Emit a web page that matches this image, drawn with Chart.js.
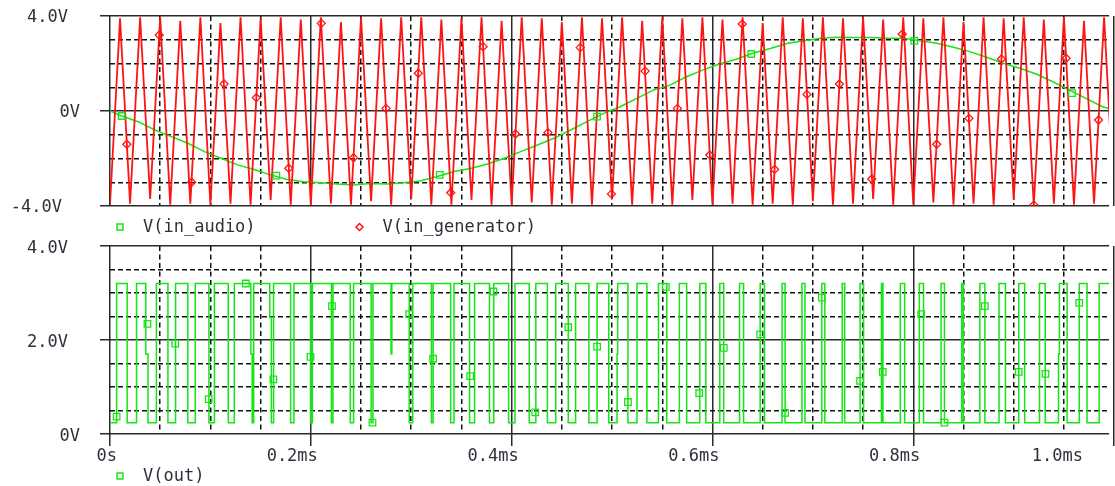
<!DOCTYPE html>
<html>
<head>
<meta charset="utf-8">
<title>PWM</title>
<script src="https://cdn.jsdelivr.net/npm/chart.js@4.4.1/dist/chart.umd.min.js"></script>
<style>
    html, body { margin: 0; padding: 0; background: #ffffff; overflow: hidden; }
    #wrap { position: relative; width: 1115px; height: 486px; }
    canvas { position: absolute; left: 0; }
    #topChart { top: 0; }
    #bottomChart { top: 240px; }
</style>
</head>
<body>
<div id="wrap">
    <canvas id="topChart" width="1115" height="250"></canvas>
    <canvas id="bottomChart" width="1115" height="246"></canvas>
</div>
<script>
// Tijdas (ms)
const xMax = 0.995;
const xMajorTicks = [0, 0.2, 0.4, 0.6, 0.8, 1.0];
const xTickLabels = ["0s", "0.2ms", "0.4ms", "0.6ms", "0.8ms", "1.0ms"];
const xMinorTicks = [0.05, 0.1, 0.15, 0.25, 0.3, 0.35, 0.45, 0.5, 0.55, 0.65, 0.7, 0.75, 0.85, 0.9, 0.95];

// Bovenste grafiek: ingangen
const topMajorTicks = [-4, 0, 4];
const topTickLabels = ["-4.0V", "0V", "4.0V"];
const topMinorTicks = [-3, -2, -1, 1, 2, 3];

// Onderste grafiek: uitgang
const bottomMajorTicks = [0, 2, 4];
const bottomTickLabels = ["0V", "2.0V", "4.0V"];
const bottomMinorTicks = [0.5, 1, 1.5, 2.5, 3, 3.5];

// V(in_audio)
const audioT = [0, 0.0116, 0.028, 0.0446, 0.061, 0.0776, 0.094, 0.1106, 0.127, 0.1436,
    0.16, 0.1765, 0.193, 0.2096, 0.226, 0.2426, 0.259, 0.2756, 0.292, 0.3086,
    0.325, 0.343, 0.36, 0.376, 0.3928, 0.409, 0.4257, 0.442, 0.4587, 0.475,
    0.4917, 0.508, 0.5248, 0.541, 0.5577, 0.574, 0.5908, 0.607, 0.6238, 0.64,
    0.6584, 0.675, 0.6914, 0.708, 0.7244, 0.741, 0.7574, 0.774, 0.7904, 0.807,
    0.8234, 0.84, 0.8564, 0.873, 0.8894, 0.906, 0.9224, 0.939, 0.9554, 0.972,
    0.9884, 0.995];
const audioV = [0, -0.21, -0.45, -0.8, -1.08, -1.36, -1.71, -1.99, -2.27, -2.46,
    -2.69, -2.88, -2.98, -3.02, -3.07, -3.12, -3.05, -3.07, -3.02, -2.95,
    -2.77, -2.55, -2.41, -2.23, -1.99, -1.71, -1.43, -1.15, -0.8, -0.45,
    -0.1, 0.18, 0.53, 0.88, 1.09, 1.44, 1.73, 1.98, 2.18, 2.43,
    2.64, 2.85, 2.96, 3.06, 3.1, 3.09, 3.09, 3.06, 3.06, 2.96,
    2.85, 2.68, 2.5, 2.26, 2.01, 1.8, 1.56, 1.23, 0.88, 0.53,
    0.18, 0.1];
const audioMarkT = [0.0116, 0.1657, 0.3284, 0.485, 0.6386, 0.801, 0.958];
const audioMarkV = [-0.21, -2.72, -2.69, -0.24, 2.4, 2.95, 0.75];

// V(in_generator): toppen en dalen van de driehoek
const genT = [0, 0.01, 0.02, 0.03, 0.04, 0.05, 0.06, 0.07, 0.08, 0.09,
    0.10, 0.11, 0.12, 0.13, 0.14, 0.15, 0.16, 0.17, 0.18, 0.19,
    0.20, 0.21, 0.22, 0.23, 0.24, 0.25, 0.26, 0.27, 0.28, 0.29,
    0.30, 0.31, 0.32, 0.33, 0.34, 0.35, 0.36, 0.37, 0.38, 0.39,
    0.40, 0.41, 0.42, 0.43, 0.44, 0.45, 0.46, 0.47, 0.48, 0.49,
    0.50, 0.51, 0.52, 0.53, 0.54, 0.55, 0.56, 0.57, 0.58, 0.59,
    0.60, 0.61, 0.62, 0.63, 0.64, 0.65, 0.66, 0.67, 0.68, 0.69,
    0.70, 0.71, 0.72, 0.73, 0.74, 0.75, 0.76, 0.77, 0.78, 0.79,
    0.80, 0.81, 0.82, 0.83, 0.84, 0.85, 0.86, 0.87, 0.88, 0.89,
    0.90, 0.91, 0.92, 0.93, 0.94, 0.95, 0.96, 0.97, 0.98, 0.99,
    1.00];
const genV = [-3.95, 3.9, -3.9, 3.95, -3.7, 3.95, -3.95, 3.8, -3.9, 3.95,
    -3.95, 3.7, -3.9, 3.95, -3.95, 3.9, -3.75, 3.95, -3.95, 3.85,
    -3.95, 3.95, -3.9, 3.75, -3.95, 3.95, -3.8, 3.9, -3.95, 3.95,
    -3.7, 3.95, -3.95, 3.85, -3.95, 3.9, -3.75, 3.95, -3.95, 3.8,
    -3.95, 3.95, -3.85, 3.9, -3.95, 3.75, -3.9, 3.95, -3.95, 3.9,
    -3.7, 3.95, -3.95, 3.8, -3.9, 3.95, -3.95, 3.9, -3.75, 3.95,
    -3.95, 3.85, -3.9, 3.95, -3.95, 3.7, -3.9, 3.95, -3.95, 3.9,
    -3.8, 3.95, -3.95, 3.9, -3.9, 3.95, -3.7, 3.85, -3.95, 3.95,
    -3.95, 3.9, -3.85, 3.95, -3.95, 3.75, -3.9, 3.95, -3.95, 3.9,
    -3.75, 3.95, -3.98, 3.85, -3.9, 3.95, -3.95, 3.8, -3.9, 3.95,
    -3.95];
const genMarkT = [0.0168, 0.049, 0.0813, 0.1136, 0.1457, 0.178, 0.2104, 0.2425, 0.2749, 0.307,
    0.3393, 0.3716, 0.4038, 0.4361, 0.4683, 0.4994, 0.5329, 0.5651, 0.5973, 0.6296,
    0.6619, 0.6941, 0.7264, 0.7586, 0.789, 0.8233, 0.8554, 0.8877, 0.92, 0.9522, 0.9845];
const genMarkV = [-1.4, 3.2, -3.0, 1.14, 0.56, -2.41, 3.69, -1.97, 0.11, 1.59,
    -3.44, 2.71, -0.97, -0.91, 2.67, -3.49, 1.68, 0.11, -1.85, 3.66,
    -2.46, 0.7, 1.14, -2.86, 3.24, -1.4, -0.31, 2.19, -3.96, 2.22, -0.38];

// V(out): flanktijden met het niveau dat daar begint
const outT = [0, 0.0066, 0.0171, 0.0264, 0.0356, 0.0379, 0.0462, 0.0577, 0.0653, 0.0775,
    0.0849, 0.0985, 0.104, 0.1178, 0.1238, 0.1403, 0.1416, 0.1431, 0.1591, 0.1607,
    0.1629, 0.1799, 0.1832, 0.1997, 0.2015, 0.2205, 0.2221, 0.2393, 0.2426, 0.2601,
    0.2619, 0.2799, 0.2807, 0.298, 0.3015, 0.3201, 0.3218, 0.3393, 0.3426, 0.3581,
    0.3631, 0.3779, 0.3822, 0.397, 0.4033, 0.4175, 0.4241, 0.4356, 0.4439, 0.4564,
    0.4637, 0.4769, 0.4851, 0.4967, 0.505, 0.5056, 0.5158, 0.5248, 0.5347, 0.5462,
    0.5545, 0.567, 0.5743, 0.5874, 0.5934, 0.6073, 0.6112, 0.627, 0.631, 0.6475,
    0.6518, 0.6693, 0.6723, 0.6891, 0.6921, 0.7089, 0.7119, 0.7292, 0.7317, 0.747,
    0.7505, 0.7683, 0.7698, 0.7871, 0.7914, 0.806, 0.8102, 0.8277, 0.831, 0.8482,
    0.8498, 0.8663, 0.8713, 0.8854, 0.8918, 0.905, 0.9109, 0.9257, 0.9314, 0.9446,
    0.9455, 0.9532, 0.9653, 0.973, 0.9851, 1.0];
const outV = [0.24, 3.2, 0.24, 3.2, 1.7, 0.24, 3.2, 0.24, 3.2, 0.24,
    3.2, 0.24, 3.2, 0.24, 3.2, 1.7, 0.24, 3.2, 2.48, 0.24,
    3.2, 0.24, 3.2, 0.24, 3.2, 0.24, 3.2, 0.24, 3.2, 0.24,
    3.2, 1.7, 3.2, 0.24, 3.2, 0.24, 3.2, 0.24, 3.2, 0.24,
    3.2, 0.24, 3.2, 0.24, 3.2, 0.24, 3.2, 0.24, 3.2, 0.24,
    3.2, 0.24, 3.2, 0.24, 1.7, 3.2, 0.24, 3.2, 0.24, 3.2,
    0.24, 3.2, 0.24, 3.2, 0.24, 3.2, 0.24, 3.2, 0.24, 3.2,
    0.24, 3.2, 0.24, 3.2, 0.24, 3.2, 0.24, 3.2, 0.24, 3.2,
    0.24, 3.2, 0.24, 3.2, 0.24, 3.2, 0.24, 3.2, 0.24, 3.2,
    0.24, 3.2, 0.24, 3.2, 0.24, 3.2, 0.24, 3.2, 0.24, 1.7,
    3.2, 0.24, 3.2, 0.24, 3.2, 3.2];
const outMarkT = [0.0066, 0.0373, 0.065, 0.0983, 0.1353, 0.1627, 0.1997, 0.2211, 0.2614, 0.298,
    0.3218, 0.3587, 0.3819, 0.4235, 0.4564, 0.4851, 0.5158, 0.5535, 0.5868, 0.6112,
    0.6475, 0.6723, 0.7089, 0.747, 0.7696, 0.8079, 0.831, 0.8713, 0.905, 0.9317, 0.9653];
const outMarkV = [0.37, 2.34, 1.92, 0.74, 3.2, 1.16, 1.64, 2.72, 0.24, 2.55,
    1.6, 1.23, 3.03, 0.46, 2.27, 1.86, 0.68, 3.13, 0.87, 1.83,
    2.12, 0.45, 2.9, 1.13, 1.32, 2.55, 0.24, 2.72, 1.32, 1.28, 2.79];

const groen = '#14e614';
const rood = '#ff1414';
const tekstKleur = '#30303c';
const lettertype = '17px "DejaVu Sans Mono", monospace';

function punten(xs, ys) {
    return xs.map((x, i) => ({ x: x, y: ys[i] }));
}

function vasteTicks(waarden) {
    return scale => { scale.ticks = waarden.map(v => ({ value: v })); };
}

function maakAssen(yMin, yMax, yMajor, yMinor, xStreepjes) {
    return {
        x: {
            type: 'linear', axis: 'x', position: 'bottom', min: 0, max: xMax,
            afterBuildTicks: vasteTicks(xMajorTicks),
            ticks: { display: false },
            border: { display: false },
            grid: { color: '#2a2a2a', lineWidth: 1.5, drawTicks: xStreepjes, tickLength: 12 }
        },
        xMinor: {
            type: 'linear', axis: 'x', position: 'bottom', min: 0, max: xMax,
            afterBuildTicks: vasteTicks(xMinorTicks),
            ticks: { display: false },
            border: { display: false, dash: [5, 3.5] },
            grid: { color: '#111111', lineWidth: 1.5, drawTicks: false }
        },
        y: {
            type: 'linear', axis: 'y', position: 'left', min: yMin, max: yMax,
            afterBuildTicks: vasteTicks(yMajor),
            ticks: { display: false },
            border: { display: false },
            grid: { color: '#2a2a2a', lineWidth: 1.5, drawTicks: true, tickLength: 10 }
        },
        yMinor: {
            type: 'linear', axis: 'y', position: 'left', min: yMin, max: yMax,
            afterBuildTicks: vasteTicks(yMinor),
            ticks: { display: false },
            border: { display: false, dash: [5, 3] },
            grid: { color: '#111111', lineWidth: 1.5, drawTicks: false }
        }
    };
}

// Aslabels en legende in PSpice-stijl
const pspiceTekst = {
    id: 'pspiceTekst',
    afterDraw(chart, args, opts) {
        const ctx = chart.ctx;
        ctx.save();
        ctx.font = lettertype;
        ctx.fillStyle = tekstKleur;
        ctx.textBaseline = 'middle';
        ctx.textAlign = 'right';

        const y = chart.scales.y;
        opts.yWaarden.forEach((v, i) => {
            const t = opts.yLabels[i];
            ctx.fillText(t, 80 - 6 * (t.length - 2), y.getPixelForValue(v) + opts.yVerschuiving);
        });

        if (opts.xLabels) {
            const x = chart.scales.x;
            opts.xWaarden.forEach((v, i) => {
                const rechts = Math.min(x.getPixelForValue(v) + 7, chart.width - 32);
                ctx.fillText(opts.xLabels[i], rechts, opts.xLabelY);
            });
        }

        ctx.textAlign = 'left';
        ctx.textBaseline = 'alphabetic';
        ctx.lineWidth = 1.5;
        opts.legende.forEach(item => {
            const cx = item.x, cy = opts.legendeY;
            ctx.strokeStyle = item.kleur;
            ctx.beginPath();
            if (item.vorm === 'ruit') {
                ctx.moveTo(cx - 3.5, cy);
                ctx.lineTo(cx, cy - 3.5);
                ctx.lineTo(cx + 3.5, cy);
                ctx.lineTo(cx, cy + 3.5);
                ctx.closePath();
            } else {
                ctx.rect(cx - 3, cy - 3, 6, 6);
            }
            ctx.stroke();
            ctx.fillText(item.tekst, cx + 23, cy + 5);
        });
        ctx.restore();
    }
};

const basisOpties = {
    responsive: false,
    animation: false,
    events: [],
    devicePixelRatio: 1
};

new Chart(document.getElementById('topChart'), {
    type: 'line',
    data: {
        datasets: [
            {
                type: 'scatter', data: punten(genMarkT, genMarkV), order: 0,
                pointStyle: 'rectRot', pointRadius: 4, borderColor: rood, borderWidth: 1.3,
                backgroundColor: 'rgba(0,0,0,0)', xAxisID: 'x', yAxisID: 'y'
            },
            {
                type: 'scatter', data: punten(audioMarkT, audioMarkV), order: 0,
                pointStyle: 'rect', pointRadius: 4.6, borderColor: groen, borderWidth: 1.3,
                backgroundColor: 'rgba(0,0,0,0)', xAxisID: 'x', yAxisID: 'y'
            },
            {
                label: 'V(in_generator)', data: punten(genT, genV), order: 1,
                borderColor: rood, borderWidth: 1.8, pointRadius: 0, tension: 0,
                xAxisID: 'x', yAxisID: 'y'
            },
            {
                label: 'V(in_audio)', data: punten(audioT, audioV), order: 2,
                borderColor: groen, borderWidth: 1.5, pointRadius: 0, tension: 0,
                xAxisID: 'x', yAxisID: 'y'
            }
        ]
    },
    options: {
        ...basisOpties,
        layout: { padding: { left: 100, top: 16, right: 0, bottom: 44 } },
        scales: maakAssen(-4, 4, topMajorTicks, topMinorTicks, false),
        plugins: {
            legend: { display: false },
            tooltip: { enabled: false },
            pspiceTekst: {
                yWaarden: topMajorTicks, yLabels: topTickLabels, yVerschuiving: 2,
                legendeY: 227,
                legende: [
                    { tekst: 'V(in_audio)', kleur: groen, vorm: 'vierkant', x: 120 },
                    { tekst: 'V(in_generator)', kleur: rood, vorm: 'ruit', x: 359.5 }
                ]
            }
        }
    },
    plugins: [pspiceTekst]
});

new Chart(document.getElementById('bottomChart'), {
    type: 'line',
    data: {
        datasets: [
            {
                type: 'scatter', data: punten(outMarkT, outMarkV), order: 0,
                pointStyle: 'rect', pointRadius: 4.6, borderColor: groen, borderWidth: 1.3,
                backgroundColor: 'rgba(0,0,0,0)', xAxisID: 'x', yAxisID: 'y'
            },
            {
                label: 'V(out)', data: punten(outT, outV), order: 1,
                borderColor: groen, borderWidth: 1.5, pointRadius: 0, stepped: 'before',
                xAxisID: 'x', yAxisID: 'y'
            }
        ]
    },
    options: {
        ...basisOpties,
        layout: { padding: { left: 100, top: 5, right: 0, bottom: 40 } },
        scales: maakAssen(0, 4, bottomMajorTicks, bottomMinorTicks, true),
        plugins: {
            legend: { display: false },
            tooltip: { enabled: false },
            pspiceTekst: {
                yWaarden: bottomMajorTicks, yLabels: bottomTickLabels, yVerschuiving: 3,
                xWaarden: xMajorTicks, xLabels: xTickLabels, xLabelY: 217,
                legendeY: 236,
                legende: [
                    { tekst: 'V(out)', kleur: groen, vorm: 'vierkant', x: 120 }
                ]
            }
        }
    },
    plugins: [pspiceTekst]
});
</script>
</body>
</html>
